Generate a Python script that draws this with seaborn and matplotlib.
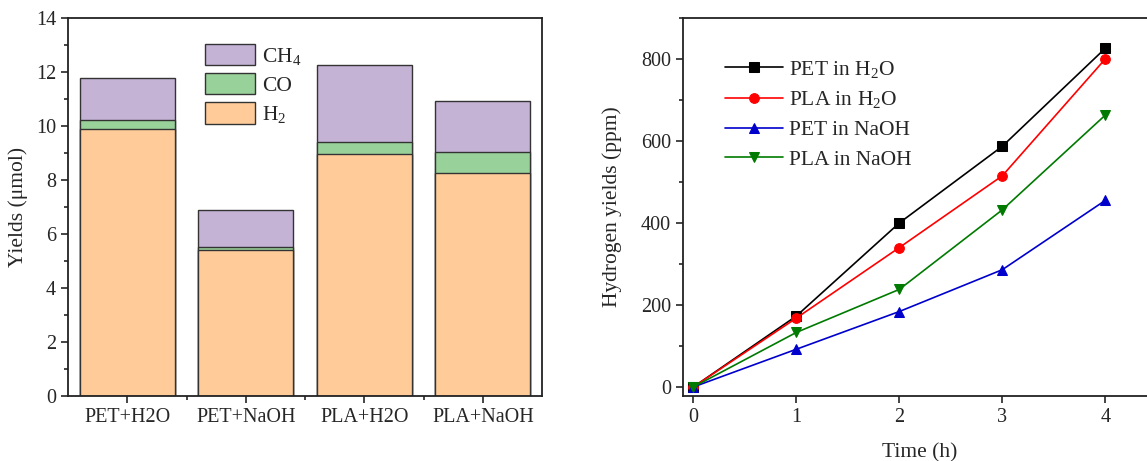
import matplotlib
matplotlib.use("Agg")
import matplotlib.pyplot as plt
from matplotlib.patches import Patch
from matplotlib.ticker import MultipleLocator
import numpy as np
import seaborn as sns

# --- data (left: gas yields, right: hydrogen vs time) ---
categories = ["PET+H2O", "PET+NaOH", "PLA+H2O", "PLA+NaOH"]
h2_yield = [9.9, 5.4, 8.97, 8.25]
co_yield = [0.32, 0.10, 0.45, 0.78]
ch4_yield = [1.56, 1.38, 2.85, 1.90]

time_h = [0, 1, 2, 3, 4]
pet_h2o = [0, 173, 400, 587, 826]
pla_h2o = [0, 168, 340, 515, 800]
pet_naoh = [0, 92, 184, 286, 455]
pla_naoh = [0, 133, 238, 432, 663]

sns.set_style("ticks")
plt.rcParams["font.family"] = ["Liberation Serif", "DejaVu Serif"]
plt.rcParams["mathtext.default"] = "regular"
plt.rcParams["axes.linewidth"] = 1.3
plt.rcParams["axes.edgecolor"] = "#222222"

fig = plt.figure(figsize=(11.47, 4.61), dpi=100)
ax1 = fig.add_axes([0.0593, 0.141, 0.4133, 0.820])
ax2 = fig.add_axes([0.5955, 0.141, 0.4130, 0.820])

# stacked bars drawn as cumulative totals, tallest first
lvl_co = np.add(h2_yield, co_yield)
lvl_ch4 = lvl_co + np.array(ch4_yield)
bar_kw = dict(width=0.8, edgecolor="#333333", linewidth=1.0)
sns.barplot(x=categories, y=lvl_ch4, color="#c5b3d6", saturation=1, ax=ax1, **bar_kw)
sns.barplot(x=categories, y=lvl_co, color="#98d19a", saturation=1, ax=ax1, **bar_kw)
sns.barplot(x=categories, y=h2_yield, color="#ffcc99", saturation=1, ax=ax1, **bar_kw)

ax1.set_xlim(-0.5, 3.5)
ax1.set_ylim(0, 14)
ax1.yaxis.set_major_locator(MultipleLocator(2))
ax1.yaxis.set_minor_locator(MultipleLocator(1))
ax1.set_xticks([0.5, 1.5, 2.5], minor=True)
ax1.set_ylabel("Yields (μmol)", fontsize=15.5, labelpad=6)
ax1.set_xlabel("")
ax1.tick_params(which="major", direction="out", length=5, width=1.2, labelsize=14.5)
ax1.tick_params(which="minor", direction="out", length=3, width=1.2)
for s in ["top", "right"]:
    ax1.spines[s].set_visible(True)

handles = [
    Patch(facecolor="#c5b3d6", edgecolor="#333333", label="CH$_4$"),
    Patch(facecolor="#98d19a", edgecolor="#333333", label="CO"),
    Patch(facecolor="#ffcc99", edgecolor="#333333", label="H$_2$"),
]
ax1.legend(handles=handles, loc="upper left", bbox_to_anchor=(0.27, 0.955),
           frameon=False, fontsize=15.5, handlelength=2.35, handleheight=1.15,
           labelspacing=0.3, handletextpad=0.3, borderaxespad=0)

# hydrogen evolution curves
series = [
    ("PET in H$_2$O", pet_h2o, "black", "s"),
    ("PLA in H$_2$O", pla_h2o, "red", "o"),
    ("PET in NaOH", pet_naoh, "#0000cc", "^"),
    ("PLA in NaOH", pla_naoh, "#007a00", "v"),
]
for name, vals, col, mk in series:
    sns.lineplot(x=time_h, y=vals, color=col, marker=mk, markersize=7,
                 markeredgecolor=col, linewidth=1.2, label=name, ax=ax2)

ax2.set_xlim(-0.1, 4.5)
ax2.set_ylim(-22, 900)
ax2.set_xticks(time_h)
ax2.yaxis.set_major_locator(MultipleLocator(200))
ax2.yaxis.set_minor_locator(MultipleLocator(100))
ax2.set_xlabel("Time (h)", fontsize=15.5, labelpad=12)
ax2.set_ylabel("Hydrogen yields (ppm)", fontsize=15.5, labelpad=14)
ax2.tick_params(which="major", direction="out", length=5, width=1.2, labelsize=14.5)
ax2.tick_params(which="minor", direction="out", length=3, width=1.2)
ax2.legend(loc="upper left", bbox_to_anchor=(0.07, 0.915), frameon=False,
           fontsize=15.5, handlelength=2.7, labelspacing=0.45, handletextpad=0.3,
           borderaxespad=0)

fig.savefig("out.png", dpi=100)
